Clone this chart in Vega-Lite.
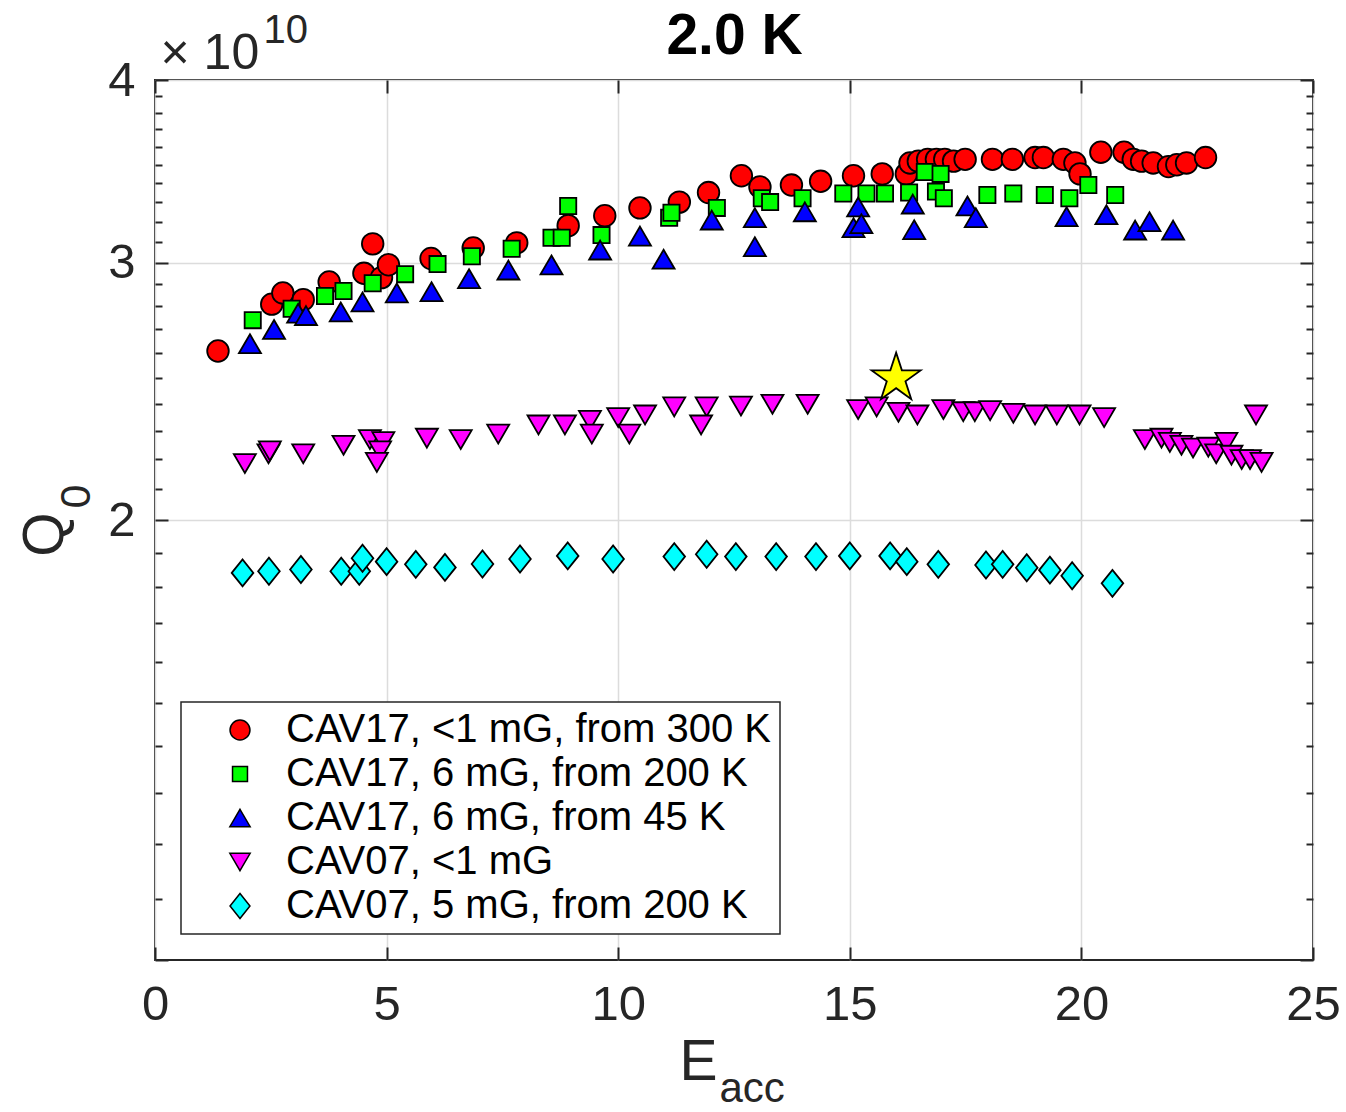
{
  "$schema": "https://vega.github.io/schema/vega-lite/v6.json",
  "width": 1158,
  "height": 880,
  "autosize": {"type": "none"},
  "padding": {"left": 155, "top": 80, "right": 33, "bottom": 152},
  "background": "white",
  "datasets": {
    "series": [
      {"s": "CAV17, <1 mG, from 300 K", "e": 1.36, "q": 2.61e10},
      {"s": "CAV17, <1 mG, from 300 K", "e": 2.52, "q": 2.81e10},
      {"s": "CAV17, <1 mG, from 300 K", "e": 2.76, "q": 2.86e10},
      {"s": "CAV17, <1 mG, from 300 K", "e": 3.20, "q": 2.83e10},
      {"s": "CAV17, <1 mG, from 300 K", "e": 3.76, "q": 2.91e10},
      {"s": "CAV17, <1 mG, from 300 K", "e": 4.51, "q": 2.95e10},
      {"s": "CAV17, <1 mG, from 300 K", "e": 4.70, "q": 3.09e10},
      {"s": "CAV17, <1 mG, from 300 K", "e": 4.89, "q": 2.93e10},
      {"s": "CAV17, <1 mG, from 300 K", "e": 5.04, "q": 2.99e10},
      {"s": "CAV17, <1 mG, from 300 K", "e": 5.96, "q": 3.02e10},
      {"s": "CAV17, <1 mG, from 300 K", "e": 6.87, "q": 3.07e10},
      {"s": "CAV17, <1 mG, from 300 K", "e": 7.81, "q": 3.095e10},
      {"s": "CAV17, <1 mG, from 300 K", "e": 8.92, "q": 3.18e10},
      {"s": "CAV17, <1 mG, from 300 K", "e": 9.71, "q": 3.23e10},
      {"s": "CAV17, <1 mG, from 300 K", "e": 10.47, "q": 3.27e10},
      {"s": "CAV17, <1 mG, from 300 K", "e": 11.32, "q": 3.30e10},
      {"s": "CAV17, <1 mG, from 300 K", "e": 11.95, "q": 3.35e10},
      {"s": "CAV17, <1 mG, from 300 K", "e": 12.66, "q": 3.44e10},
      {"s": "CAV17, <1 mG, from 300 K", "e": 13.06, "q": 3.38e10},
      {"s": "CAV17, <1 mG, from 300 K", "e": 13.74, "q": 3.39e10},
      {"s": "CAV17, <1 mG, from 300 K", "e": 14.37, "q": 3.41e10},
      {"s": "CAV17, <1 mG, from 300 K", "e": 15.08, "q": 3.44e10},
      {"s": "CAV17, <1 mG, from 300 K", "e": 15.70, "q": 3.45e10},
      {"s": "CAV17, <1 mG, from 300 K", "e": 16.22, "q": 3.45e10},
      {"s": "CAV17, <1 mG, from 300 K", "e": 16.30, "q": 3.51e10},
      {"s": "CAV17, <1 mG, from 300 K", "e": 16.48, "q": 3.52e10},
      {"s": "CAV17, <1 mG, from 300 K", "e": 16.68, "q": 3.53e10},
      {"s": "CAV17, <1 mG, from 300 K", "e": 16.87, "q": 3.53e10},
      {"s": "CAV17, <1 mG, from 300 K", "e": 17.05, "q": 3.53e10},
      {"s": "CAV17, <1 mG, from 300 K", "e": 17.24, "q": 3.52e10},
      {"s": "CAV17, <1 mG, from 300 K", "e": 17.49, "q": 3.53e10},
      {"s": "CAV17, <1 mG, from 300 K", "e": 18.08, "q": 3.53e10},
      {"s": "CAV17, <1 mG, from 300 K", "e": 18.51, "q": 3.53e10},
      {"s": "CAV17, <1 mG, from 300 K", "e": 19.00, "q": 3.54e10},
      {"s": "CAV17, <1 mG, from 300 K", "e": 19.18, "q": 3.54e10},
      {"s": "CAV17, <1 mG, from 300 K", "e": 19.61, "q": 3.53e10},
      {"s": "CAV17, <1 mG, from 300 K", "e": 19.86, "q": 3.51e10},
      {"s": "CAV17, <1 mG, from 300 K", "e": 19.97, "q": 3.45e10},
      {"s": "CAV17, <1 mG, from 300 K", "e": 20.42, "q": 3.57e10},
      {"s": "CAV17, <1 mG, from 300 K", "e": 20.92, "q": 3.57e10},
      {"s": "CAV17, <1 mG, from 300 K", "e": 21.12, "q": 3.53e10},
      {"s": "CAV17, <1 mG, from 300 K", "e": 21.30, "q": 3.52e10},
      {"s": "CAV17, <1 mG, from 300 K", "e": 21.55, "q": 3.51e10},
      {"s": "CAV17, <1 mG, from 300 K", "e": 21.88, "q": 3.49e10},
      {"s": "CAV17, <1 mG, from 300 K", "e": 22.06, "q": 3.50e10},
      {"s": "CAV17, <1 mG, from 300 K", "e": 22.27, "q": 3.51e10},
      {"s": "CAV17, <1 mG, from 300 K", "e": 22.68, "q": 3.54e10},
      {"s": "CAV17, 6 mG, from 200 K", "e": 2.11, "q": 2.74e10},
      {"s": "CAV17, 6 mG, from 200 K", "e": 2.95, "q": 2.79e10},
      {"s": "CAV17, 6 mG, from 200 K", "e": 3.67, "q": 2.846e10},
      {"s": "CAV17, 6 mG, from 200 K", "e": 4.07, "q": 2.869e10},
      {"s": "CAV17, 6 mG, from 200 K", "e": 4.70, "q": 2.904e10},
      {"s": "CAV17, 6 mG, from 200 K", "e": 5.40, "q": 2.946e10},
      {"s": "CAV17, 6 mG, from 200 K", "e": 6.10, "q": 2.993e10},
      {"s": "CAV17, 6 mG, from 200 K", "e": 6.84, "q": 3.03e10},
      {"s": "CAV17, 6 mG, from 200 K", "e": 7.70, "q": 3.066e10},
      {"s": "CAV17, 6 mG, from 200 K", "e": 8.56, "q": 3.12e10},
      {"s": "CAV17, 6 mG, from 200 K", "e": 8.78, "q": 3.12e10},
      {"s": "CAV17, 6 mG, from 200 K", "e": 8.92, "q": 3.28e10},
      {"s": "CAV17, 6 mG, from 200 K", "e": 9.64, "q": 3.133e10},
      {"s": "CAV17, 6 mG, from 200 K", "e": 11.10, "q": 3.22e10},
      {"s": "CAV17, 6 mG, from 200 K", "e": 11.15, "q": 3.245e10},
      {"s": "CAV17, 6 mG, from 200 K", "e": 12.13, "q": 3.27e10},
      {"s": "CAV17, 6 mG, from 200 K", "e": 13.10, "q": 3.32e10},
      {"s": "CAV17, 6 mG, from 200 K", "e": 13.28, "q": 3.30e10},
      {"s": "CAV17, 6 mG, from 200 K", "e": 13.98, "q": 3.32e10},
      {"s": "CAV17, 6 mG, from 200 K", "e": 14.86, "q": 3.345e10},
      {"s": "CAV17, 6 mG, from 200 K", "e": 15.36, "q": 3.345e10},
      {"s": "CAV17, 6 mG, from 200 K", "e": 15.76, "q": 3.345e10},
      {"s": "CAV17, 6 mG, from 200 K", "e": 16.28, "q": 3.35e10},
      {"s": "CAV17, 6 mG, from 200 K", "e": 16.62, "q": 3.46e10},
      {"s": "CAV17, 6 mG, from 200 K", "e": 16.96, "q": 3.45e10},
      {"s": "CAV17, 6 mG, from 200 K", "e": 16.86, "q": 3.355e10},
      {"s": "CAV17, 6 mG, from 200 K", "e": 17.03, "q": 3.32e10},
      {"s": "CAV17, 6 mG, from 200 K", "e": 17.97, "q": 3.337e10},
      {"s": "CAV17, 6 mG, from 200 K", "e": 18.53, "q": 3.345e10},
      {"s": "CAV17, 6 mG, from 200 K", "e": 19.21, "q": 3.337e10},
      {"s": "CAV17, 6 mG, from 200 K", "e": 19.74, "q": 3.32e10},
      {"s": "CAV17, 6 mG, from 200 K", "e": 20.15, "q": 3.39e10},
      {"s": "CAV17, 6 mG, from 200 K", "e": 20.73, "q": 3.337e10},
      {"s": "CAV17, 6 mG, from 45 K", "e": 2.05, "q": 2.64e10},
      {"s": "CAV17, 6 mG, from 45 K", "e": 2.57, "q": 2.70e10},
      {"s": "CAV17, 6 mG, from 45 K", "e": 3.09, "q": 2.77e10},
      {"s": "CAV17, 6 mG, from 45 K", "e": 3.26, "q": 2.76e10},
      {"s": "CAV17, 6 mG, from 45 K", "e": 4.01, "q": 2.776e10},
      {"s": "CAV17, 6 mG, from 45 K", "e": 4.48, "q": 2.82e10},
      {"s": "CAV17, 6 mG, from 45 K", "e": 5.22, "q": 2.86e10},
      {"s": "CAV17, 6 mG, from 45 K", "e": 5.97, "q": 2.866e10},
      {"s": "CAV17, 6 mG, from 45 K", "e": 6.78, "q": 2.925e10},
      {"s": "CAV17, 6 mG, from 45 K", "e": 7.63, "q": 2.965e10},
      {"s": "CAV17, 6 mG, from 45 K", "e": 8.56, "q": 2.989e10},
      {"s": "CAV17, 6 mG, from 45 K", "e": 9.61, "q": 3.06e10},
      {"s": "CAV17, 6 mG, from 45 K", "e": 10.47, "q": 3.128e10},
      {"s": "CAV17, 6 mG, from 45 K", "e": 10.98, "q": 3.016e10},
      {"s": "CAV17, 6 mG, from 45 K", "e": 12.02, "q": 3.208e10},
      {"s": "CAV17, 6 mG, from 45 K", "e": 12.95, "q": 3.22e10},
      {"s": "CAV17, 6 mG, from 45 K", "e": 12.95, "q": 3.076e10},
      {"s": "CAV17, 6 mG, from 45 K", "e": 14.03, "q": 3.25e10},
      {"s": "CAV17, 6 mG, from 45 K", "e": 15.18, "q": 3.275e10},
      {"s": "CAV17, 6 mG, from 45 K", "e": 15.08, "q": 3.17e10},
      {"s": "CAV17, 6 mG, from 45 K", "e": 15.25, "q": 3.19e10},
      {"s": "CAV17, 6 mG, from 45 K", "e": 16.36, "q": 3.29e10},
      {"s": "CAV17, 6 mG, from 45 K", "e": 16.39, "q": 3.16e10},
      {"s": "CAV17, 6 mG, from 45 K", "e": 17.54, "q": 3.28e10},
      {"s": "CAV17, 6 mG, from 45 K", "e": 17.72, "q": 3.22e10},
      {"s": "CAV17, 6 mG, from 45 K", "e": 19.68, "q": 3.225e10},
      {"s": "CAV17, 6 mG, from 45 K", "e": 20.54, "q": 3.235e10},
      {"s": "CAV17, 6 mG, from 45 K", "e": 21.16, "q": 3.158e10},
      {"s": "CAV17, 6 mG, from 45 K", "e": 21.47, "q": 3.20e10},
      {"s": "CAV17, 6 mG, from 45 K", "e": 21.98, "q": 3.158e10},
      {"s": "CAV07, <1 mG", "e": 1.94, "q": 2.186e10},
      {"s": "CAV07, <1 mG", "e": 2.45, "q": 2.22e10},
      {"s": "CAV07, <1 mG", "e": 2.48, "q": 2.23e10},
      {"s": "CAV07, <1 mG", "e": 3.20, "q": 2.22e10},
      {"s": "CAV07, <1 mG", "e": 4.07, "q": 2.25e10},
      {"s": "CAV07, <1 mG", "e": 4.64, "q": 2.27e10},
      {"s": "CAV07, <1 mG", "e": 4.93, "q": 2.263e10},
      {"s": "CAV07, <1 mG", "e": 4.86, "q": 2.23e10},
      {"s": "CAV07, <1 mG", "e": 4.79, "q": 2.19e10},
      {"s": "CAV07, <1 mG", "e": 5.87, "q": 2.275e10},
      {"s": "CAV07, <1 mG", "e": 6.60, "q": 2.27e10},
      {"s": "CAV07, <1 mG", "e": 7.41, "q": 2.29e10},
      {"s": "CAV07, <1 mG", "e": 8.28, "q": 2.323e10},
      {"s": "CAV07, <1 mG", "e": 8.85, "q": 2.323e10},
      {"s": "CAV07, <1 mG", "e": 9.39, "q": 2.34e10},
      {"s": "CAV07, <1 mG", "e": 9.43, "q": 2.29e10},
      {"s": "CAV07, <1 mG", "e": 10.00, "q": 2.35e10},
      {"s": "CAV07, <1 mG", "e": 10.24, "q": 2.29e10},
      {"s": "CAV07, <1 mG", "e": 10.58, "q": 2.36e10},
      {"s": "CAV07, <1 mG", "e": 11.21, "q": 2.39e10},
      {"s": "CAV07, <1 mG", "e": 11.91, "q": 2.39e10},
      {"s": "CAV07, <1 mG", "e": 11.79, "q": 2.323e10},
      {"s": "CAV07, <1 mG", "e": 12.65, "q": 2.393e10},
      {"s": "CAV07, <1 mG", "e": 13.33, "q": 2.40e10},
      {"s": "CAV07, <1 mG", "e": 14.09, "q": 2.40e10},
      {"s": "CAV07, <1 mG", "e": 15.18, "q": 2.38e10},
      {"s": "CAV07, <1 mG", "e": 15.58, "q": 2.39e10},
      {"s": "CAV07, <1 mG", "e": 16.05, "q": 2.37e10},
      {"s": "CAV07, <1 mG", "e": 16.46, "q": 2.36e10},
      {"s": "CAV07, <1 mG", "e": 17.02, "q": 2.38e10},
      {"s": "CAV07, <1 mG", "e": 17.45, "q": 2.372e10},
      {"s": "CAV07, <1 mG", "e": 17.70, "q": 2.372e10},
      {"s": "CAV07, <1 mG", "e": 18.03, "q": 2.376e10},
      {"s": "CAV07, <1 mG", "e": 18.53, "q": 2.366e10},
      {"s": "CAV07, <1 mG", "e": 19.00, "q": 2.36e10},
      {"s": "CAV07, <1 mG", "e": 19.47, "q": 2.36e10},
      {"s": "CAV07, <1 mG", "e": 19.96, "q": 2.36e10},
      {"s": "CAV07, <1 mG", "e": 20.49, "q": 2.35e10},
      {"s": "CAV07, <1 mG", "e": 21.37, "q": 2.27e10},
      {"s": "CAV07, <1 mG", "e": 21.73, "q": 2.275e10},
      {"s": "CAV07, <1 mG", "e": 21.91, "q": 2.26e10},
      {"s": "CAV07, <1 mG", "e": 22.16, "q": 2.25e10},
      {"s": "CAV07, <1 mG", "e": 22.41, "q": 2.24e10},
      {"s": "CAV07, <1 mG", "e": 22.74, "q": 2.243e10},
      {"s": "CAV07, <1 mG", "e": 22.91, "q": 2.22e10},
      {"s": "CAV07, <1 mG", "e": 23.13, "q": 2.26e10},
      {"s": "CAV07, <1 mG", "e": 23.24, "q": 2.215e10},
      {"s": "CAV07, <1 mG", "e": 23.46, "q": 2.20e10},
      {"s": "CAV07, <1 mG", "e": 23.64, "q": 2.20e10},
      {"s": "CAV07, <1 mG", "e": 23.89, "q": 2.19e10},
      {"s": "CAV07, <1 mG", "e": 23.77, "q": 2.36e10},
      {"s": "CAV07, 5 mG, from 200 K", "e": 1.89, "q": 1.84e10},
      {"s": "CAV07, 5 mG, from 200 K", "e": 2.46, "q": 1.845e10},
      {"s": "CAV07, 5 mG, from 200 K", "e": 3.15, "q": 1.85e10},
      {"s": "CAV07, 5 mG, from 200 K", "e": 4.02, "q": 1.845e10},
      {"s": "CAV07, 5 mG, from 200 K", "e": 4.41, "q": 1.845e10},
      {"s": "CAV07, 5 mG, from 200 K", "e": 4.48, "q": 1.883e10},
      {"s": "CAV07, 5 mG, from 200 K", "e": 5.00, "q": 1.873e10},
      {"s": "CAV07, 5 mG, from 200 K", "e": 5.63, "q": 1.865e10},
      {"s": "CAV07, 5 mG, from 200 K", "e": 6.26, "q": 1.856e10},
      {"s": "CAV07, 5 mG, from 200 K", "e": 7.07, "q": 1.866e10},
      {"s": "CAV07, 5 mG, from 200 K", "e": 7.88, "q": 1.881e10},
      {"s": "CAV07, 5 mG, from 200 K", "e": 8.91, "q": 1.89e10},
      {"s": "CAV07, 5 mG, from 200 K", "e": 9.89, "q": 1.881e10},
      {"s": "CAV07, 5 mG, from 200 K", "e": 11.21, "q": 1.888e10},
      {"s": "CAV07, 5 mG, from 200 K", "e": 11.91, "q": 1.895e10},
      {"s": "CAV07, 5 mG, from 200 K", "e": 12.54, "q": 1.888e10},
      {"s": "CAV07, 5 mG, from 200 K", "e": 13.41, "q": 1.888e10},
      {"s": "CAV07, 5 mG, from 200 K", "e": 14.27, "q": 1.888e10},
      {"s": "CAV07, 5 mG, from 200 K", "e": 15.00, "q": 1.89e10},
      {"s": "CAV07, 5 mG, from 200 K", "e": 15.87, "q": 1.89e10},
      {"s": "CAV07, 5 mG, from 200 K", "e": 16.23, "q": 1.873e10},
      {"s": "CAV07, 5 mG, from 200 K", "e": 16.91, "q": 1.865e10},
      {"s": "CAV07, 5 mG, from 200 K", "e": 17.94, "q": 1.863e10},
      {"s": "CAV07, 5 mG, from 200 K", "e": 18.30, "q": 1.865e10},
      {"s": "CAV07, 5 mG, from 200 K", "e": 18.82, "q": 1.855e10},
      {"s": "CAV07, 5 mG, from 200 K", "e": 19.32, "q": 1.848e10},
      {"s": "CAV07, 5 mG, from 200 K", "e": 19.80, "q": 1.832e10},
      {"s": "CAV07, 5 mG, from 200 K", "e": 20.67, "q": 1.81e10}
    ],
    "star": [{"e": 16.0, "q": 2.5e10}]
  },
  "layer": [
    {
      "data": {"name": "series"},
      "mark": {"type": "point", "filled": true, "opacity": 1, "fillOpacity": 1, "stroke": "black", "strokeWidth": 1.8, "strokeOpacity": 1, "size": 729},
      "encoding": {
        "x": {"field": "e", "type": "quantitative", "scale": {"domain": [0, 25], "nice": false, "zero": false},
          "axis": {"orient": "bottom", "values": [0, 5, 10, 15, 20, 25], "grid": true, "ticks": false, "tickSize": 0, "domain": false,
            "labelFontSize": 49, "labelBaseline": "alphabetic", "labelPadding": 59,
            "title": "E", "titleFontSize": 57, "titleX": 524, "titleY": 119, "titleAlign": "left", "titleBaseline": "alphabetic", "titleAngle": 0}},
        "y": {"field": "q", "type": "quantitative", "scale": {"type": "log", "domain": [1e10, 4e10], "nice": false, "zero": false},
          "axis": {"orient": "left", "values": [2e10, 3e10, 4e10], "labelExpr": "format(datum.value/1e10, 'd')", "grid": true, "ticks": false, "tickSize": 0, "domain": false,
            "labelFontSize": 49, "labelPadding": 20,
            "title": "Q", "titleFontSize": 57, "titleAngle": 270, "titleX": -93, "titleY": 454, "titleAlign": "center", "titleBaseline": "alphabetic"}},
        "fill": {"field": "s", "type": "nominal",
          "scale": {"domain": ["CAV17, <1 mG, from 300 K", "CAV17, 6 mG, from 200 K", "CAV17, 6 mG, from 45 K", "CAV07, <1 mG", "CAV07, 5 mG, from 200 K"],
                    "range": ["#ff0000", "#00ff00", "#0000ff", "#ff00ff", "#00ffff"]},
          "legend": {"encode": {"symbols": {"update": {"stroke": {"value": "black"}, "strokeWidth": {"value": 1.5}}}}}},
        "shape": {"field": "s", "type": "nominal",
          "scale": {"domain": ["CAV17, <1 mG, from 300 K", "CAV17, 6 mG, from 200 K", "CAV17, 6 mG, from 45 K", "CAV07, <1 mG", "CAV07, 5 mG, from 200 K"],
                    "range": ["M0.8,0A0.8,0.8,0,1,1,-0.8,0A0.8,0.8,0,1,1,0.8,0Z", "M-0.6,-0.6L0.6,-0.6L0.6,0.6L-0.6,0.6Z", "M0,-0.7L0.815,0.7L-0.815,0.7Z", "M0,0.7L0.815,-0.7L-0.815,-0.7Z", "M-0.8,0L0,-1L0.8,0L0,1Z"]},
          "legend": {"encode": {"symbols": {"update": {"stroke": {"value": "black"}, "strokeWidth": {"value": 1.5}}}}}}
      }
    },
    {
      "data": {"name": "star"},
      "mark": {"type": "point", "filled": true, "opacity": 1, "fill": "#ffff00", "stroke": "black", "strokeWidth": 1.8, "size": 2650,
        "shape": "M0,-1L0.2245,-0.309L0.951,-0.309L0.363,0.118L0.588,0.809L0,0.382L-0.588,0.809L-0.363,0.118L-0.951,-0.309L-0.2245,-0.309Z"},
      "encoding": {
        "x": {"field": "e", "type": "quantitative", "scale": {"domain": [0, 25], "nice": false, "zero": false},
          "axis": {"orient": "bottom", "values": [0, 5, 10, 15, 20, 25], "grid": false, "labels": false, "ticks": true, "tickSize": -13, "domain": false,
            "title": "acc", "titleFontSize": 42, "titleX": 564, "titleY": 141, "titleAlign": "left", "titleBaseline": "alphabetic", "titleAngle": 0}},
        "y": {"field": "q", "type": "quantitative", "scale": {"type": "log", "domain": [1e10, 4e10], "nice": false, "zero": false},
          "axis": {"orient": "left", "values": [1e10, 2e10, 3e10, 4e10], "grid": false, "labels": false, "ticks": true, "tickSize": -13, "domain": false,
            "title": "0", "titleFontSize": 43, "titleAngle": 270, "titleX": -66, "titleY": 416, "titleAlign": "center", "titleBaseline": "alphabetic"}}
      }
    },
    {
      "data": {"name": "star"},
      "mark": {"type": "point", "opacity": 0},
      "encoding": {
        "x": {"field": "e", "type": "quantitative", "scale": {"domain": [0, 25], "nice": false, "zero": false},
          "axis": {"orient": "top", "values": [0, 5, 10, 15, 20, 25], "grid": false, "labels": false, "ticks": true, "tickSize": -13, "domain": false,
            "title": "× 10", "titleFontSize": 50, "titleX": 5, "titleY": -12, "titleAlign": "left", "titleBaseline": "alphabetic", "titleAngle": 0}},
        "y": {"field": "q", "type": "quantitative", "scale": {"type": "log", "domain": [1e10, 4e10], "nice": false, "zero": false},
          "axis": {"orient": "right", "values": [1e10, 2e10, 3e10, 4e10], "grid": false, "labels": false, "ticks": true, "tickSize": -13, "domain": false, "title": null}}
      }
    },
    {
      "data": {"name": "star"},
      "mark": {"type": "point", "opacity": 0},
      "encoding": {
        "x": {"field": "e", "type": "quantitative", "scale": {"domain": [0, 25], "nice": false, "zero": false},
          "axis": {"orient": "top", "values": [0], "grid": false, "labels": false, "ticks": false, "tickSize": 0, "domain": false,
            "title": "10", "titleFontSize": 40, "titleX": 108, "titleY": -38, "titleAlign": "left", "titleBaseline": "alphabetic", "titleAngle": 0}},
        "y": {"field": "q", "type": "quantitative", "scale": {"type": "log", "domain": [1e10, 4e10], "nice": false, "zero": false},
          "axis": {"orient": "left", "values": [1.1e10, 1.2e10, 1.3e10, 1.4e10, 1.5e10, 1.6e10, 1.7e10, 1.8e10, 1.9e10, 2.1e10, 2.2e10, 2.3e10, 2.4e10, 2.5e10, 2.6e10, 2.7e10, 2.8e10, 2.9e10, 3.1e10, 3.2e10, 3.3e10, 3.4e10, 3.5e10, 3.6e10, 3.7e10, 3.8e10, 3.9e10],
            "grid": false, "labels": false, "ticks": true, "tickSize": -7, "domain": false, "title": null}}
      }
    },
    {
      "data": {"name": "star"},
      "mark": {"type": "point", "opacity": 0},
      "encoding": {
        "x": {"field": "e", "type": "quantitative", "scale": {"domain": [0, 25], "nice": false, "zero": false},
          "axis": {"orient": "top", "values": [0], "grid": false, "labels": false, "ticks": false, "tickSize": 0, "domain": false,
            "title": "2.0 K", "titleFontSize": 57, "titleFontWeight": "bold", "titleColor": "black", "titleX": 579, "titleY": -27, "titleAlign": "center", "titleBaseline": "alphabetic", "titleAngle": 0}},
        "y": {"field": "q", "type": "quantitative", "scale": {"type": "log", "domain": [1e10, 4e10], "nice": false, "zero": false},
          "axis": {"orient": "right", "values": [1.1e10, 1.2e10, 1.3e10, 1.4e10, 1.5e10, 1.6e10, 1.7e10, 1.8e10, 1.9e10, 2.1e10, 2.2e10, 2.3e10, 2.4e10, 2.5e10, 2.6e10, 2.7e10, 2.8e10, 2.9e10, 3.1e10, 3.2e10, 3.3e10, 3.4e10, 3.5e10, 3.6e10, 3.7e10, 3.8e10, 3.9e10],
            "grid": false, "labels": false, "ticks": true, "tickSize": -7, "domain": false, "title": null}}
      }
    }
  ],
  "resolve": {"axis": {"x": "independent", "y": "independent"}},
  "config": {
    "view": {"stroke": "#262626", "strokeWidth": 2},
    "axis": {"labelFont": "Liberation Sans", "titleFont": "Liberation Sans", "labelColor": "#262626", "titleColor": "#262626", "titleFontWeight": "normal",
      "tickColor": "#262626", "tickWidth": 2, "labelFlush": false, "labelOverlap": false, "labelBound": false, "gridColor": "#dcdcdc", "gridWidth": 1.5, "gridOpacity": 1},
    "legend": {"orient": "bottom-left", "offset": 26, "padding": 8, "strokeColor": "#262626", "strokeWidth": 1.5, "fillColor": "white",
      "labelFont": "Liberation Sans", "labelFontSize": 40, "labelColor": "black", "labelLimit": 800,
      "symbolSize": 620, "symbolStrokeColor": "black", "symbolStrokeWidth": 1.5, "symbolOpacity": 1,
      "rowPadding": 4, "symbolOffset": 31, "labelOffset": 26, "title": null, "titlePadding": 0}
  }
}
